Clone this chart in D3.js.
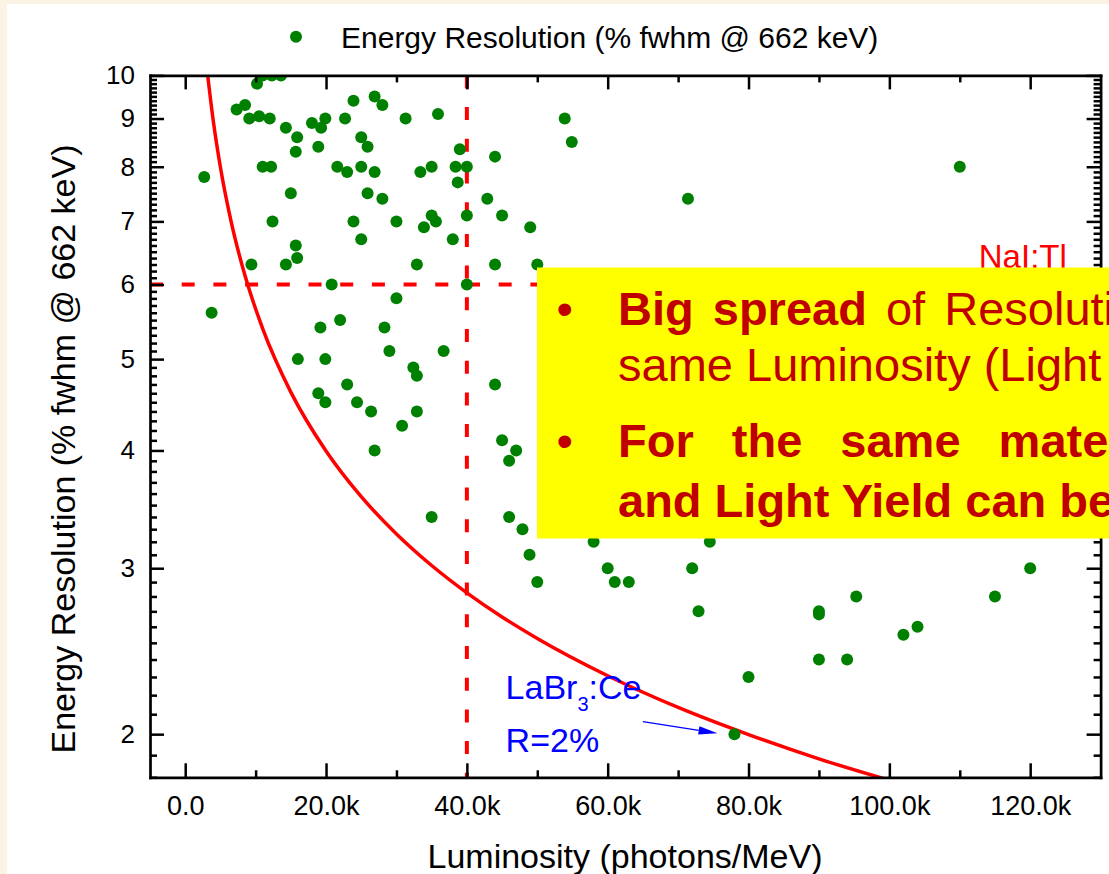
<!DOCTYPE html>
<html>
<head>
<meta charset="utf-8">
<script src="https://cdn.jsdelivr.net/npm/d3@7"></script>
<style>
  html, body { margin: 0; padding: 0; background: #FBF4E4; overflow: hidden; }
  svg { display: block; font-family: "Liberation Sans", Arial, sans-serif; }
</style>
</head>
<body>
<svg id="chart" width="1109" height="874"></svg>
<script>
// scintillators: light yield (photons/MeV) and energy resolution (% fwhm @ 662 keV)
const luminosity = [
    2700, 7300, 8500, 9100, 10500, 12000, 10200, 11000, 12300, 13600,
    11000, 12200, 14300, 15900, 15700, 15000, 12400, 9400, 14300, 15700,
    15900, 18000, 19300, 19900, 18900, 21600, 23000, 22700, 23900, 25000,
    25900, 25000, 26900, 25900, 28000, 26900, 28000, 23900, 25000, 30000,
    31300, 32900, 33900, 35000, 35600, 33400, 35000, 35900, 38000, 39000,
    38400, 40000, 38700, 40000, 44000, 42900, 45000, 44000, 49000, 50000,
    20800, 40000, 53900, 54900, 71400, 110000,
    3750, 30000, 19200, 22000, 28300, 16000, 19900, 29000, 36700, 32400,
    32900, 23000, 18900, 19900, 24400, 26400, 32900, 30800, 26900, 44000,
    45000, 47000, 46000, 35000, 46000, 47900, 48900, 50000,
    58000, 74500, 60000, 61000, 63000, 72000, 72900, 90000, 90000, 95300,
    102000, 104000, 90000, 94000, 80000, 78000, 115000, 120000
];
const resolution = [
    7.8, 9.2, 9.3, 9.0, 9.05, 9.0, 9.8, 10.0, 10.0, 10.0,
    8.0, 8.0, 8.8, 8.6, 8.3, 7.5, 7.0, 6.3, 6.3, 6.6,
    6.4, 8.9, 8.8, 9.0, 8.4, 8.0, 7.9, 9.0, 9.4, 8.6,
    8.4, 8.0, 7.9, 7.5, 7.4, 9.5, 9.3, 7.0, 6.7, 7.0,
    9.0, 6.3, 6.9, 7.1, 7.0, 7.9, 8.0, 9.1, 6.7, 8.35,
    8.0, 8.0, 7.7, 7.1, 8.2, 7.4, 7.1, 6.3, 6.9, 6.3,
    6.0, 6.0, 9.0, 8.5, 7.4, 8.0,
    5.6, 5.8, 5.4, 5.5, 5.4, 5.0, 5.0, 5.1, 5.1, 4.9,
    4.8, 4.7, 4.6, 4.5, 4.5, 4.4, 4.4, 4.25, 4.0, 4.7,
    4.1, 4.0, 3.9, 3.4, 3.4, 3.3, 3.1, 2.9,
    3.2, 3.2, 3.0, 2.9, 2.9, 3.0, 2.7, 2.7, 2.68, 2.8,
    2.55, 2.6, 2.4, 2.4, 2.3, 2.0, 2.8, 3.0
];

// statistical limit curve
const limitLum = [3200, 4000, 5000, 6500, 8500, 11000, 15000, 20000, 25000, 30000, 35000, 40000, 45000, 50000, 60000, 70000, 80000, 90000, 100000];
const limitRes = [9.988, 8.933, 7.990, 7.008, 6.128, 5.387, 4.613, 3.995, 3.573, 3.262, 3.020, 2.825, 2.663, 2.527, 2.307, 2.135, 1.998, 1.883, 1.787];

// NaI:Tl reference (dashed cross)
const naiLum = 40000;
const naiRes = 6;

const xTicks = [0, 20000, 40000, 60000, 80000, 100000, 120000];
const xTickLabels = ["0.0", "20.0k", "40.0k", "60.0k", "80.0k", "100.0k", "120.0k"];
const xMinorTicks = [10000, 30000, 50000, 70000, 90000, 110000];
const yTicks = [2, 3, 4, 5, 6, 7, 8, 9, 10];
const yTickLabels = ["2", "3", "4", "5", "6", "7", "8", "9", "10"];
const yMinorTicks = d3.range(18, 101).map(v => v / 10).filter(v => !Number.isInteger(v));

const svg = d3.select("#chart");

svg.append("rect")
    .attr("x", 7).attr("y", 4)
    .attr("width", 1109).attr("height", 874)
    .attr("fill", "#fff");

const x = d3.scaleLinear().domain([-5000, 130000]).range([150, 1100.6]);
const y = d3.scaleLog().domain([1.8, 10]).range([777.3, 75.4]);

const [plotLeft, plotRight] = x.range();
const [plotBottom, plotTop] = y.range();

svg.append("clipPath").attr("id", "plot-clip")
    .append("rect")
    .attr("x", plotLeft).attr("y", plotTop)
    .attr("width", plotRight - plotLeft).attr("height", plotBottom - plotTop);

// reference lines
const refs = svg.append("g")
    .attr("clip-path", "url(#plot-clip)")
    .attr("stroke", "#ff0000")
    .attr("stroke-width", 4)
    .attr("stroke-dasharray", "13,18.7");
refs.append("line")
    .attr("x1", plotLeft).attr("x2", plotRight)
    .attr("y1", y(naiRes)).attr("y2", y(naiRes));
refs.append("line")
    .attr("x1", x(naiLum)).attr("x2", x(naiLum))
    .attr("y1", plotTop).attr("y2", plotBottom);

// limit curve
svg.append("path")
    .attr("clip-path", "url(#plot-clip)")
    .attr("fill", "none")
    .attr("stroke", "#ff0000")
    .attr("stroke-width", 3.5)
    .attr("d", d3.line()
        .x(i => x(limitLum[i]))
        .y(i => y(limitRes[i]))
        .curve(d3.curveMonotoneX)(d3.range(limitLum.length)));

// points
svg.append("g")
    .attr("clip-path", "url(#plot-clip)")
    .selectAll("circle")
    .data(d3.range(luminosity.length))
    .join("circle")
    .attr("cx", i => x(luminosity[i]))
    .attr("cy", i => y(resolution[i]))
    .attr("r", 6)
    .attr("fill", "#008000");

// axes
const styleAxis = (g, size) => {
    g.selectAll(".tick line").attr("stroke", "#000").attr("stroke-width", 2.5);
    g.selectAll(".tick text").attr("fill", "#000").attr("font-size", size).attr("font-family", "Liberation Sans, Arial, sans-serif");
    g.select(".domain").attr("stroke", "#000").attr("stroke-width", 2.7).attr("stroke-linecap", "square");
};

const minor = (axis, vals) => axis.tickValues(vals).tickSizeInner(-7).tickSizeOuter(0).tickFormat("");

svg.append("g").attr("transform", `translate(0,${plotBottom})`)
    .call(minor(d3.axisBottom(x), xMinorTicks))
    .call(g => { styleAxis(g, 26); g.select(".domain").remove(); });
svg.append("g").attr("transform", `translate(0,${plotTop})`)
    .call(minor(d3.axisTop(x), xMinorTicks))
    .call(g => { styleAxis(g, 26); g.select(".domain").remove(); });
svg.append("g").attr("transform", `translate(${plotLeft},0)`)
    .call(minor(d3.axisLeft(y), yMinorTicks))
    .call(g => { styleAxis(g, 26); g.select(".domain").remove(); });
svg.append("g").attr("transform", `translate(${plotRight},0)`)
    .call(minor(d3.axisRight(y), yMinorTicks))
    .call(g => { styleAxis(g, 26); g.select(".domain").remove(); });

svg.append("g").attr("transform", `translate(0,${plotBottom})`)
    .call(d3.axisBottom(x).tickValues(xTicks).tickSizeInner(-14).tickSizeOuter(0)
        .tickPadding(18.5).tickFormat((d, i) => xTickLabels[i]))
    .call(g => styleAxis(g, 27));
svg.append("g").attr("transform", `translate(0,${plotTop})`)
    .call(d3.axisTop(x).tickValues(xTicks).tickSizeInner(-14).tickSizeOuter(0).tickFormat(""))
    .call(g => styleAxis(g, 27));
svg.append("g").attr("transform", `translate(${plotLeft},0)`)
    .call(d3.axisLeft(y).tickValues(yTicks).tickSizeInner(-14).tickSizeOuter(0)
        .tickPadding(15).tickFormat((d, i) => yTickLabels[i]))
    .call(g => styleAxis(g, 26));
svg.append("g").attr("transform", `translate(${plotRight},0)`)
    .call(d3.axisRight(y).tickValues(yTicks).tickSizeInner(-14).tickSizeOuter(0).tickFormat(""))
    .call(g => styleAxis(g, 26));

// axis titles
svg.append("text")
    .attr("transform", `translate(75,449) rotate(-90)`)
    .attr("text-anchor", "middle")
    .attr("font-size", 34)
    .attr("fill", "#000")
    .text("Energy Resolution (% fwhm @ 662 keV)");
svg.append("text")
    .attr("x", 625).attr("y", 868)
    .attr("text-anchor", "middle")
    .attr("font-size", 34)
    .attr("fill", "#000")
    .text("Luminosity (photons/MeV)");

// legend
svg.append("circle").attr("cx", 296).attr("cy", 36.7).attr("r", 6).attr("fill", "#008000");
svg.append("text")
    .attr("x", 341).attr("y", 48.3)
    .attr("font-size", 30)
    .attr("fill", "#000")
    .text("Energy Resolution (% fwhm @ 662 keV)");

// annotations
svg.append("text")
    .attr("x", x(112700)).attr("y", y(6.25))
    .attr("font-size", 33)
    .attr("fill", "#ff0000")
    .text("NaI:Tl");

const labr = svg.append("text")
    .attr("x", x(45500)).attr("y", y(2.177))
    .attr("font-size", 34)
    .attr("fill", "#0000ff");
labr.append("tspan").text("LaBr");
labr.append("tspan").attr("font-size", 20).attr("dy", 12).text("3");
labr.append("tspan").attr("dy", -12).text(":Ce");
svg.append("text")
    .attr("x", x(45500)).attr("y", y(1.917))
    .attr("font-size", 34)
    .attr("fill", "#0000ff")
    .text("R=2%");

const arrowFrom = [65000, 2.062];
const arrowTo = [75600, 2.004];
{
    const x0 = x(arrowFrom[0]), y0 = y(arrowFrom[1]);
    const x1 = x(arrowTo[0]), y1 = y(arrowTo[1]);
    const len = Math.hypot(x1 - x0, y1 - y0);
    const ux = (x1 - x0) / len, uy = (y1 - y0) / len;
    const hl = 19, hw = 4.2;
    const bx = x1 - ux * hl, by = y1 - uy * hl;
    svg.append("line")
        .attr("x1", x0).attr("y1", y0).attr("x2", bx).attr("y2", by)
        .attr("stroke", "#0000ff").attr("stroke-width", 1.4);
    svg.append("path")
        .attr("d", `M${x1},${y1}L${bx - uy * hw},${by + ux * hw}L${bx + uy * hw},${by - ux * hw}Z`)
        .attr("fill", "#0000ff");
}

// yellow note box
const note = svg.append("g");
note.append("rect")
    .attr("x", 537).attr("y", 267.5)
    .attr("width", 600).attr("height", 271)
    .attr("fill", "#ffff00");

const noteText = note.append("g")
    .attr("font-size", 47)
    .attr("fill", "#c00000");

noteText.append("text").attr("x", 556.6).attr("y", 324.5).text("\u2022");
noteText.append("text").attr("x", 556.6).attr("y", 457).text("\u2022");

const l1 = noteText.append("text").attr("x", 618).attr("y", 324.5).attr("word-spacing", 6);
l1.append("tspan").attr("font-weight", "bold").text("Big spread");
l1.append("tspan").text(" of Resolution for the");
noteText.append("text").attr("x", 618).attr("y", 381).text("same Luminosity (Light Yield)");
noteText.append("text").attr("x", 618).attr("y", 457)
    .attr("font-weight", "bold").attr("word-spacing", 25)
    .text("For the same material, Resolution");
noteText.append("text").attr("x", 618).attr("y", 516.5)
    .attr("font-weight", "bold")
    .text("and Light Yield can be different");
</script>
</body>
</html>
